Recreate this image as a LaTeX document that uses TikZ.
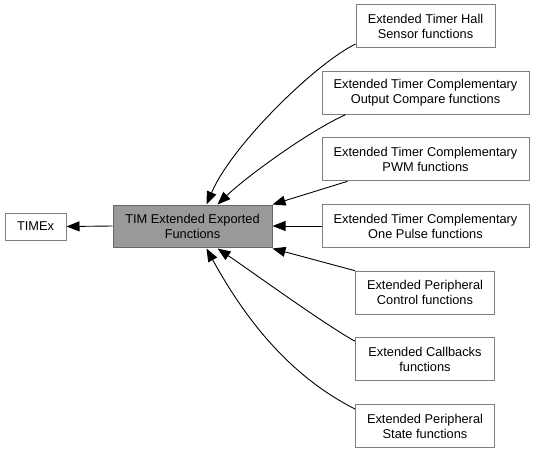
\documentclass[tikz,border=0pt]{standalone}
\usepackage{fontspec}
\setmainfont{Liberation Sans}
\usetikzlibrary{arrows.meta,calc}
\definecolor{boxborder}{RGB}{128,128,128}
\definecolor{grayfill}{RGB}{153,153,153}
\definecolor{grayborder}{RGB}{102,102,102}
\begin{document}
\begin{tikzpicture}[x=1pt,y=-1pt,
  every node/.style={font=\fontsize{12.8}{15}\selectfont, align=center, inner sep=0pt, text=black},
  plainbox/.style={draw=boxborder, fill=white, line width=1pt, minimum height=43pt},
  narrowbox/.style={plainbox, minimum width=139pt},
  widebox/.style={plainbox, minimum width=207pt},
  graybox/.style={draw=grayborder, fill=grayfill, line width=1pt, minimum width=159pt, minimum height=42pt},
  edge/.style={line width=0.9pt, draw=black, -{Triangle[length=13pt,width=10pt]}}
]
\useasboundingbox (0,0) rectangle (535,453);
\node[graybox] (main) at (192.5,226) {TIM Extended Exported\\Functions};
\node[draw=boxborder, fill=white, line width=1pt, minimum width=61pt, minimum height=27pt] (timex) at (35.5,226.5) {TIMEx};
\node[narrowbox] (hall) at (425.5,26) {Extended Timer Hall\\Sensor functions};
\node[widebox] (oc) at (425.5,92.7) {Extended Timer Complementary\\Output Compare functions};
\node[widebox] (pwm) at (425.5,159.3) {Extended Timer Complementary\\PWM functions};
\node[widebox] (op) at (425.5,226) {Extended Timer Complementary\\One Pulse functions};
\node[narrowbox] (pc) at (425,292.7) {Extended Peripheral\\Control functions};
\node[narrowbox] (cb) at (425,359.3) {Extended Callbacks\\functions};
\node[narrowbox] (st) at (425,426) {Extended Peripheral\\State functions};

\draw[edge] (main.west) -- (timex.east);
\draw[edge] ($(hall.south west)+(0,-4)$) .. controls (315,64) and (232,145) .. ($(main.north west)+(94,0)$);
\draw[edge] ($(oc.south west)+(24,0)$) .. controls (309,131) and (246,177) .. ($(main.north west)+(105,0)$);
\draw[edge] ($(pwm.south west)+(26,0)$) -- (main.north east);
\draw[edge] (op.west) -- (main.east);
\draw[edge] (pc.north west) -- ($(main.south east)+(0,1)$);
\draw[edge] ($(cb.north west)+(0,4)$) .. controls (321,322) and (251,271) .. ($(main.south west)+(105,1)$);
\draw[edge] ($(st.north west)+(0,5)$) .. controls (294,378) and (249,326) .. ($(main.south west)+(94,1)$);
\end{tikzpicture}
\end{document}
